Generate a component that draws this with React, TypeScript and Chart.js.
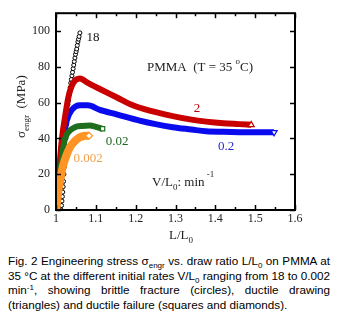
import React, { useEffect, useRef } from 'react';
import { Chart, registerables } from 'chart.js';
Chart.register(...registerables);

const xTicks = [1, 1.1, 1.2, 1.3, 1.4, 1.5, 1.6];
const xMinorTicks = [1.05, 1.15, 1.25, 1.35, 1.45, 1.55];
const yTicks = [0, 20, 40, 60, 80, 100];

// V/L0 = 18 min^-1 (brittle, circles)
const x18 = [1.013, 1.014, 1.015, 1.016, 1.017, 1.018, 1.019, 1.02, 1.021, 1.022, 1.023, 1.024, 1.025, 1.026, 1.027, 1.028, 1.029, 1.03, 1.031, 1.0325, 1.034, 1.0355, 1.037, 1.0385, 1.04, 1.0415, 1.043, 1.0445, 1.046, 1.0475, 1.049, 1.0505, 1.052, 1.0535, 1.055, 1.0565, 1.058, 1.06];
const y18 = [0, 2.5, 5, 7.5, 10, 13, 16, 20, 24, 28, 32, 36, 40, 44, 48, 52, 56, 59, 61, 64, 66, 68.5, 71, 73, 75, 77, 79, 81, 83, 85, 87, 88.5, 90, 92, 94, 95.5, 97, 99];
// V/L0 = 2
const x2 = [1.0, 1.006, 1.01, 1.016, 1.022, 1.031, 1.043, 1.06, 1.08, 1.11, 1.152, 1.193, 1.235, 1.293, 1.34, 1.377, 1.42, 1.46, 1.49];
const y2 = [0, 15, 28, 42, 51, 63, 71, 73.5, 71, 67.6, 63, 58.5, 55.5, 52.5, 50.5, 49.4, 48.5, 48, 47.6];
// V/L0 = 0.2
const x02 = [1.0, 1.006, 1.012, 1.018, 1.027, 1.04, 1.06, 1.08, 1.11, 1.152, 1.21, 1.25, 1.293, 1.34, 1.377, 1.42, 1.46, 1.5, 1.5475];
const y02 = [0, 12, 25, 38, 50, 56, 58.5, 58.5, 56, 53.5, 50, 48, 46.3, 45, 44, 43.7, 43.5, 43.4, 43.4];
// V/L0 = 0.02
const x002 = [1.0, 1.006, 1.012, 1.017, 1.0225, 1.035, 1.0475, 1.065, 1.085, 1.1, 1.117];
const y002 = [0, 12, 24, 33, 39.8, 44.4, 46.3, 47, 47.2, 46.5, 45.4];
// V/L0 = 0.002
const x0002 = [1.0, 1.003, 1.006, 1.01, 1.014, 1.018, 1.027, 1.035, 1.043, 1.055, 1.064, 1.075, 1.083];
const y0002 = [0, 5, 11, 16, 21, 25, 31, 35, 37.5, 40, 41, 41.5, 41.5];

const RED = '#c80000';
const BLUE = '#0a0aee';
const GREEN = '#1e6e1e';
const ORANGE = '#ff9424';
const SERIF = '"Liberation Serif", "Times New Roman", serif';

const pts = (xs: number[], ys: number[]) => xs.map((x, i) => ({ x, y: ys[i] }));
const endOnly = (xs: number[], r: number) => xs.map((_, i) => (i === xs.length - 1 ? r : 0));

const framePlugin = {
  id: 'framePlugin',
  afterDatasetsDraw(chart: any) {
    const { ctx, chartArea: a, scales } = chart;
    const xs = scales.x;
    const ys = scales.y;
    ctx.save();
    ctx.strokeStyle = '#000';
    ctx.lineWidth = 1.5;
    const tick = (x1: number, y1: number, x2: number, y2: number) => {
      ctx.beginPath();
      ctx.moveTo(x1, y1);
      ctx.lineTo(x2, y2);
      ctx.stroke();
    };
    xTicks.forEach((v) => {
      const px = Math.round(xs.getPixelForValue(v)) + 0.5;
      tick(px, a.bottom, px, a.bottom - 5);
      tick(px, a.top, px, a.top + 5);
    });
    xMinorTicks.forEach((v) => {
      const px = Math.round(xs.getPixelForValue(v)) + 0.5;
      tick(px, a.bottom, px, a.bottom - 3);
      tick(px, a.top, px, a.top + 3);
    });
    yTicks.forEach((v) => {
      const py = Math.round(ys.getPixelForValue(v)) + 0.5;
      tick(a.left, py, a.left + 5, py);
      tick(a.right, py, a.right - 5, py);
    });
    ctx.lineWidth = 2;
    ctx.strokeRect(a.left, a.top, a.right - a.left, a.bottom - a.top);

    // annotations
    ctx.textBaseline = 'middle';
    const txt = (s: string, x: number, y: number, color: string, size = 13, align: CanvasTextAlign = 'center') => {
      ctx.font = `${size}px ${SERIF}`;
      ctx.fillStyle = color;
      ctx.textAlign = align;
      ctx.fillText(s, x, y);
    };
    txt('18', 93, 38, '#111');
    txt('2', 197, 109, '#b40000');
    txt('0.2', 226, 147, '#2828cc');
    txt('0.02', 117, 142, '#206820');
    txt('0.002', 88, 159, '#f4a048');

    const seq = (parts: [string, number, number][], x0: number, y0: number, color: string) => {
      let x = x0;
      ctx.fillStyle = color;
      ctx.textAlign = 'left';
      parts.forEach(([s, size, dy]) => {
        ctx.font = `${size}px ${SERIF}`;
        ctx.fillText(s, x, y0 + dy);
        x += ctx.measureText(s).width;
      });
    };
    seq([['PMMA  (T = 35 ', 13, 0], ['o', 9, -6], ['C)', 13, 0]], 147, 68, '#222');
    seq([['V/L', 13, 0], ['0', 9, 5], [': min', 13, 0], [' -1', 9, -8]], 152, 183, '#222');
    seq([['L/L', 13, 0], ['0', 9, 5]], 169, 236, '#222');

    // y axis title rotated
    ctx.save();
    ctx.translate(22, 138);
    ctx.rotate(-Math.PI / 2);
    seq([['σ', 13, 0], ['engr', 9, 5], ['  (MPa)', 13, 0]], 0, 0, '#222');
    ctx.restore();

    ctx.restore();
  },
};

export default function App() {
  const ref = useRef<HTMLCanvasElement>(null);
  useEffect(() => {
    if (!ref.current) return;
    const chart = new Chart(ref.current, {
      type: 'line',
      data: {
        datasets: [
          {
            label: '18',
            data: pts(x18, y18),
            borderColor: '#000',
            borderWidth: 1,
            pointRadius: 2,
            pointStyle: 'circle',
            pointBackgroundColor: '#fff',
            pointBorderColor: '#000',
            pointBorderWidth: 1,
            order: 5,
          },
          {
            label: '0.002',
            data: pts(x0002, y0002),
            borderColor: ORANGE,
            borderWidth: 8,
            cubicInterpolationMode: 'monotone',
            pointRadius: endOnly(x0002, 3.5),
            pointStyle: 'rectRot',
            pointBackgroundColor: '#fff',
            pointBorderColor: ORANGE,
            pointBorderWidth: 1.2,
            order: 1,
          },
          {
            label: '0.02',
            data: pts(x002, y002),
            borderColor: GREEN,
            borderWidth: 6,
            cubicInterpolationMode: 'monotone',
            pointRadius: endOnly(x002, 3),
            pointStyle: 'rect',
            pointBackgroundColor: '#fff',
            pointBorderColor: GREEN,
            pointBorderWidth: 1.2,
            order: 2,
          },
          {
            label: '2',
            data: pts(x2, y2),
            borderColor: RED,
            borderWidth: 6,
            cubicInterpolationMode: 'monotone',
            pointRadius: endOnly(x2, 3.5),
            pointStyle: 'triangle',
            pointBackgroundColor: '#fff',
            pointBorderColor: RED,
            pointBorderWidth: 1.2,
            order: 3,
          },
          {
            label: '0.2',
            data: pts(x02, y02),
            borderColor: BLUE,
            borderWidth: 6,
            cubicInterpolationMode: 'monotone',
            pointRadius: endOnly(x02, 3.5),
            pointStyle: 'triangle',
            pointRotation: 180,
            pointBackgroundColor: '#fff',
            pointBorderColor: BLUE,
            pointBorderWidth: 1.2,
            order: 4,
          },
        ],
      },
      options: {
        animation: false,
        responsive: false,
        maintainAspectRatio: false,
        events: [],
        layout: { padding: { left: 0, right: 55, top: 12, bottom: 0 } },
        plugins: { legend: { display: false }, tooltip: { enabled: false } },
        scales: {
          x: {
            type: 'linear',
            min: 1,
            max: 1.6,
            grid: { display: false, drawTicks: false },
            border: { display: false },
            ticks: { padding: 2, color: '#222', font: { family: SERIF, size: 12 }, callback: (v: any) => String(v) },
            afterBuildTicks: (s: any) => { s.ticks = xTicks.map((v) => ({ value: v })); },
            afterFit: (s: any) => { s.height = 35; },
          },
          y: {
            type: 'linear',
            min: 0,
            max: 110,
            grid: { display: false, drawTicks: false },
            border: { display: false },
            ticks: { padding: 6, color: '#222', font: { family: SERIF, size: 12 }, callback: (v: any) => String(v) },
            afterBuildTicks: (s: any) => { s.ticks = yTicks.map((v) => ({ value: v })); },
            afterFit: (s: any) => { s.width = 56; },
          },
        },
      },
      plugins: [framePlugin],
    } as any);
    return () => chart.destroy();
  }, []);

  const lineStyle: React.CSSProperties = { textAlign: 'justify', textAlignLast: 'justify' as any, height: 14.7, lineHeight: '14.7px', whiteSpace: 'nowrap' };
  const sub: React.CSSProperties = { fontSize: 8, verticalAlign: -3, lineHeight: 0 };
  const sup: React.CSSProperties = { fontSize: 8, verticalAlign: 4, lineHeight: 0 };

  return (
    <div style={{ position: 'fixed', left: 0, top: 0, width: 350, height: 317, background: '#fff' }}>
      <canvas ref={ref} width={350} height={245} style={{ position: 'absolute', left: 0, top: 0, width: 350, height: 245 }} />
      <div style={{ position: 'absolute', left: 8, top: 254, width: 322, fontFamily: '"Liberation Sans", Arial, sans-serif', fontSize: 11.7, color: '#000' }}>
        <div style={lineStyle}>Fig. 2 Engineering stress σ<span style={sub}>engr</span> vs. draw ratio L/L<span style={sub}>0</span> on PMMA at</div>
        <div style={lineStyle}>35 °C at the different initial rates V/L<span style={sub}>0</span> ranging from 18 to 0.002</div>
        <div style={lineStyle}>min<span style={sup}>-1</span>, showing brittle fracture (circles), ductile drawing</div>
        <div style={{ ...lineStyle, textAlign: 'left', textAlignLast: 'left' as any }}>(triangles) and ductile failure (squares and diamonds).</div>
      </div>
    </div>
  );
}
